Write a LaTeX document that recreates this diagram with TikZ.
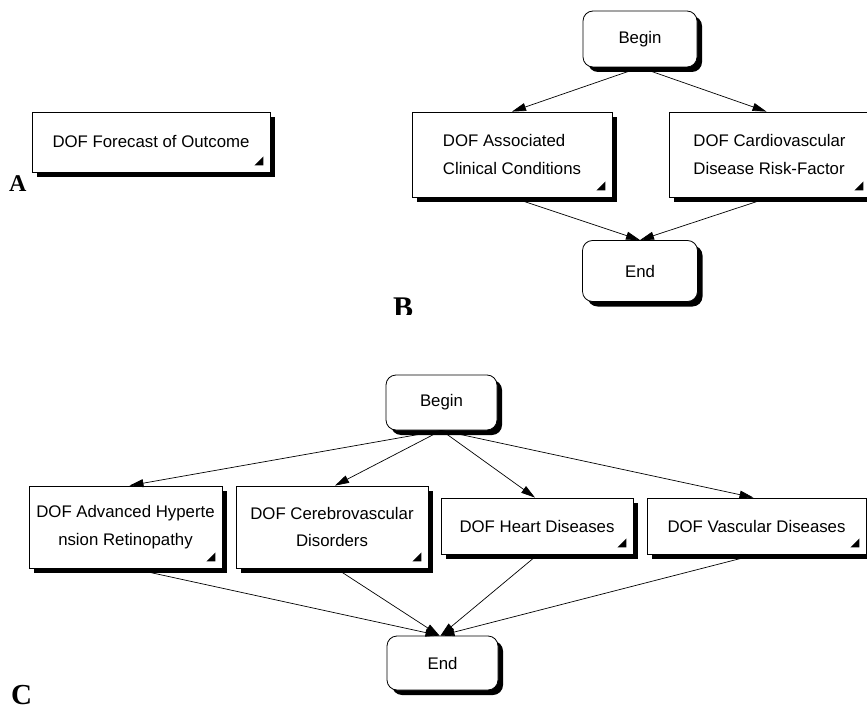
\documentclass[tikz,border=0pt]{standalone}
\usepackage{fontspec}
\setmainfont{Liberation Sans}
\newfontfamily\lblfont{Liberation Serif}
\usetikzlibrary{arrows.meta,shadows}
\newcommand\doffont{\fontsize{16.8}{27.5}\selectfont}
\begin{document}
\begin{tikzpicture}[x=1pt,y=-1pt,
  every node/.style={inner sep=0pt},
  blackshadow/.style={drop shadow={shadow xshift=5pt,shadow yshift=-5pt,fill=black,opacity=1}},
  dofbox/.style={draw,fill=white,line width=0.8pt,blackshadow,font=\doffont},
  term/.style={draw,fill=white,line width=0.8pt,rounded corners=10pt,blackshadow,font=\doffont},
  conn/.style={draw,line width=0.7pt,-{Triangle[length=14pt,width=8pt]}},
  corner/.style={fill=black},
  lbl/.style={font=\lblfont\bfseries}
]
\useasboundingbox[fill=white] (0,0) rectangle (867,711);

% Panel A
\node[dofbox,minimum width=238pt,minimum height=60pt] (a1) at (151,142) {DOF Forecast of Outcome};
\node[lbl,font=\lblfont\bfseries\fontsize{24}{24}\selectfont,anchor=base west] (la) at (9,192) {A};

% Panel B
\node[term,minimum width=114pt,minimum height=56pt] (bB) at (640,39) {Begin};
\node[dofbox,minimum width=200pt,minimum height=85pt,align=left] (b1) at (512,154.5) {DOF Associated\\Clinical Conditions};
\node[dofbox,minimum width=201pt,minimum height=85pt,align=left] (b2) at (769.5,154.5) {DOF Cardiovascular\\Disease Risk-Factor};
\node[term,minimum width=115pt,minimum height=61pt] (bE) at (640,271) {End};
\draw[conn] (bB.south) -- (b1.north);
\draw[conn] (bB.south) -- ([xshift=-3pt]b2.north);
\draw[conn] (b1.south) -- (bE.north);
\draw[conn] (b2.south) -- (bE.north);
\begin{scope}
\clip (380,290) rectangle (430,314.5);
\node[lbl,font=\lblfont\bfseries\fontsize{30}{30}\selectfont,anchor=north west] (lb) at (393,298) {B};
\end{scope}

% Panel C
\node[term,minimum width=111pt,minimum height=55pt] (cB) at (441.5,402.5) {Begin};
\node[dofbox,minimum width=193pt,minimum height=82pt,align=center] (c1) at (125.5,527) {DOF Advanced Hyperte\\nsion Retinopathy};
\node[dofbox,minimum width=192pt,minimum height=82pt,align=center] (c2) at (332,527) {DOF Cerebrovascular\\Disorders};
\node[dofbox,minimum width=192pt,minimum height=56pt] (c3) at (537,526) {DOF Heart Diseases};
\node[dofbox,minimum width=219pt,minimum height=56pt] (c4) at (756.5,526) {DOF Vascular Diseases};
\node[term,minimum width=111pt,minimum height=54pt] (cE) at (442.5,663) {End};
\draw[conn] (cB.south) -- ([xshift=4pt]c1.north);
\draw[conn] (cB.south) -- ([xshift=3pt]c2.north);
\draw[conn] (cB.south) -- ([xshift=-2pt]c3.north);
\draw[conn] (cB.south) -- ([xshift=-3pt]c4.north);
\draw[conn] ([xshift=6pt]c1.south) -- ([xshift=-3pt]cE.north);
\draw[conn] ([xshift=4pt]c2.south) -- ([xshift=-3pt]cE.north);
\draw[conn] ([xshift=1pt]c3.south) -- ([xshift=-2pt]cE.north);
\draw[conn] (c4.south) -- ([xshift=-2pt]cE.north);
\node[lbl,font=\lblfont\bfseries\fontsize{29}{29}\selectfont,anchor=north west] (lc) at (11,685) {C};

% corner markers
\foreach \n in {a1,b1,b2,c1,c2,c3,c4}
  \fill[corner] ([shift={(-7pt,7pt)}]\n.south east) -- ++(-9pt,0pt) -- ++(9pt,9pt) -- cycle;
\end{tikzpicture}
\end{document}
